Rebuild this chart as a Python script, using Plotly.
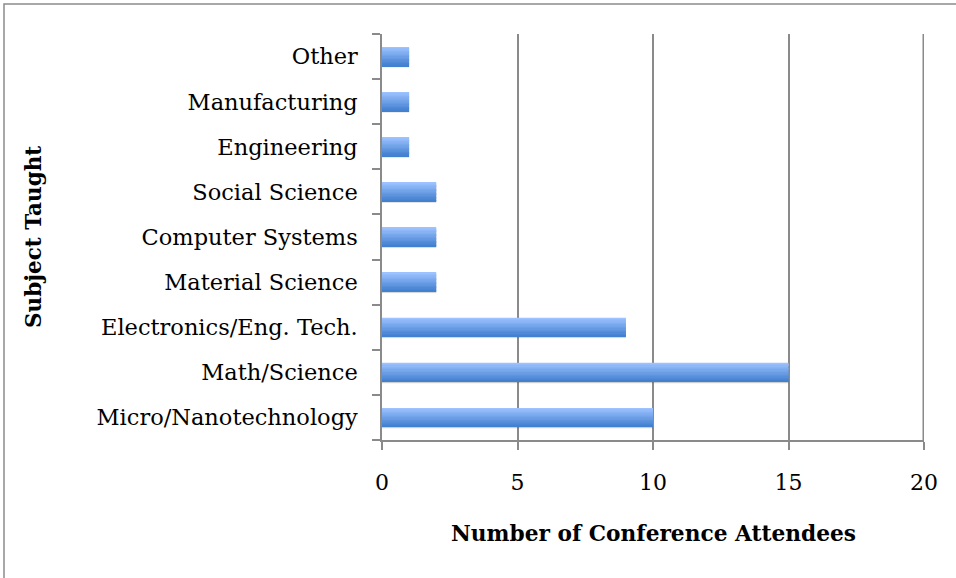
import plotly.graph_objects as go

# Survey data: subject taught by conference attendees
subjects = [
    "Micro/Nanotechnology",
    "Math/Science",
    "Electronics/Eng. Tech.",
    "Material Science",
    "Computer Systems",
    "Social Science",
    "Engineering",
    "Manufacturing",
    "Other",
]
attendees = [10, 15, 9, 2, 2, 2, 1, 1, 1]
x_ticks = [0, 5, 10, 15, 20]

FONT = "DejaVu Serif"
GRID = "#8a8a8a"

fig = go.Figure()

# soft drop shadow under each bar
bar_half = 0.21
shadow_steps = [(0.035, 0.10), (0.025, 0.14), (0.015, 0.18)]
for depth, alpha in shadow_steps:
    fig.add_trace(go.Bar(
        y=subjects, x=attendees, orientation="h",
        width=2 * bar_half, offset=-bar_half - depth,
        marker=dict(color=f"rgba(90,90,90,{alpha})", line=dict(width=0)),
        hoverinfo="skip", showlegend=False,
    ))

# vertical gradient fill built from thin horizontal strips
n = 14
top = (156, 194, 255)
bottom = (66, 128, 208)
w = 2 * bar_half / n
for i in range(n):
    t = i / (n - 1)
    c = tuple(round(top[k] + (bottom[k] - top[k]) * t) for k in range(3))
    fig.add_trace(go.Bar(
        y=subjects, x=attendees, orientation="h",
        width=w * 1.02, offset=bar_half - (i + 1) * w,
        marker=dict(color=f"rgb{c}", line=dict(width=0)),
        hoverinfo="skip", showlegend=False,
    ))

fig.update_layout(
    width=956, height=578,
    margin=dict(l=382, r=32, t=34, b=138),
    paper_bgcolor="white", plot_bgcolor="white",
    barmode="overlay",
    font=dict(family=FONT, size=22, color="black"),
    xaxis=dict(
        range=[0, 20], tickvals=x_ticks, ticktext=[str(v) for v in x_ticks],
        showgrid=True, gridcolor=GRID, gridwidth=1.5,
        showline=True, linecolor=GRID, linewidth=1.5,
        ticks="outside", ticklen=8, tickwidth=1.5, tickcolor=GRID,
        zeroline=False, ticklabelstandoff=14,
        tickfont=dict(family=FONT, size=22),
    ),
    yaxis=dict(
        type="category", categoryorder="array", categoryarray=subjects,
        range=[-0.5, len(subjects) - 0.5],
        showgrid=False, showline=True, linecolor=GRID, linewidth=1.5,
        ticks="outside", ticklen=8, tickwidth=1.5, tickcolor=GRID,
        tickson="boundaries", ticklabelstandoff=18,
        tickfont=dict(family=FONT, size=22.5),
    ),
    annotations=[
        dict(text="<b>Number of Conference Attendees</b>", xref="paper", yref="paper",
             x=0.5, y=-(533 - 440) / 406, xanchor="center", yanchor="middle",
             showarrow=False, font=dict(family=FONT, size=21.7)),
        dict(text="<b>Subject Taught</b>", xref="paper", yref="paper",
             x=(33 - 382) / 542, y=0.5, xanchor="center", yanchor="middle",
             textangle=-90, showarrow=False, font=dict(family=FONT, size=21.5)),
    ],
    shapes=[
        # outer chart frame
        dict(type="rect", xref="paper", yref="paper",
             x0=(4 - 382) / 542, x1=1.2, y0=-0.6, y1=(440 - 4) / 406,
             line=dict(color="#8c8c8c", width=1.5), layer="below"),
        # gridline at the axis maximum (half of it falls outside the clip area)
        dict(type="line", xref="x", yref="paper",
             x0=x_ticks[-1], x1=x_ticks[-1], y0=0, y1=1,
             line=dict(color=GRID, width=3), layer="below"),
    ],
)

fig.write_html("out.html")
